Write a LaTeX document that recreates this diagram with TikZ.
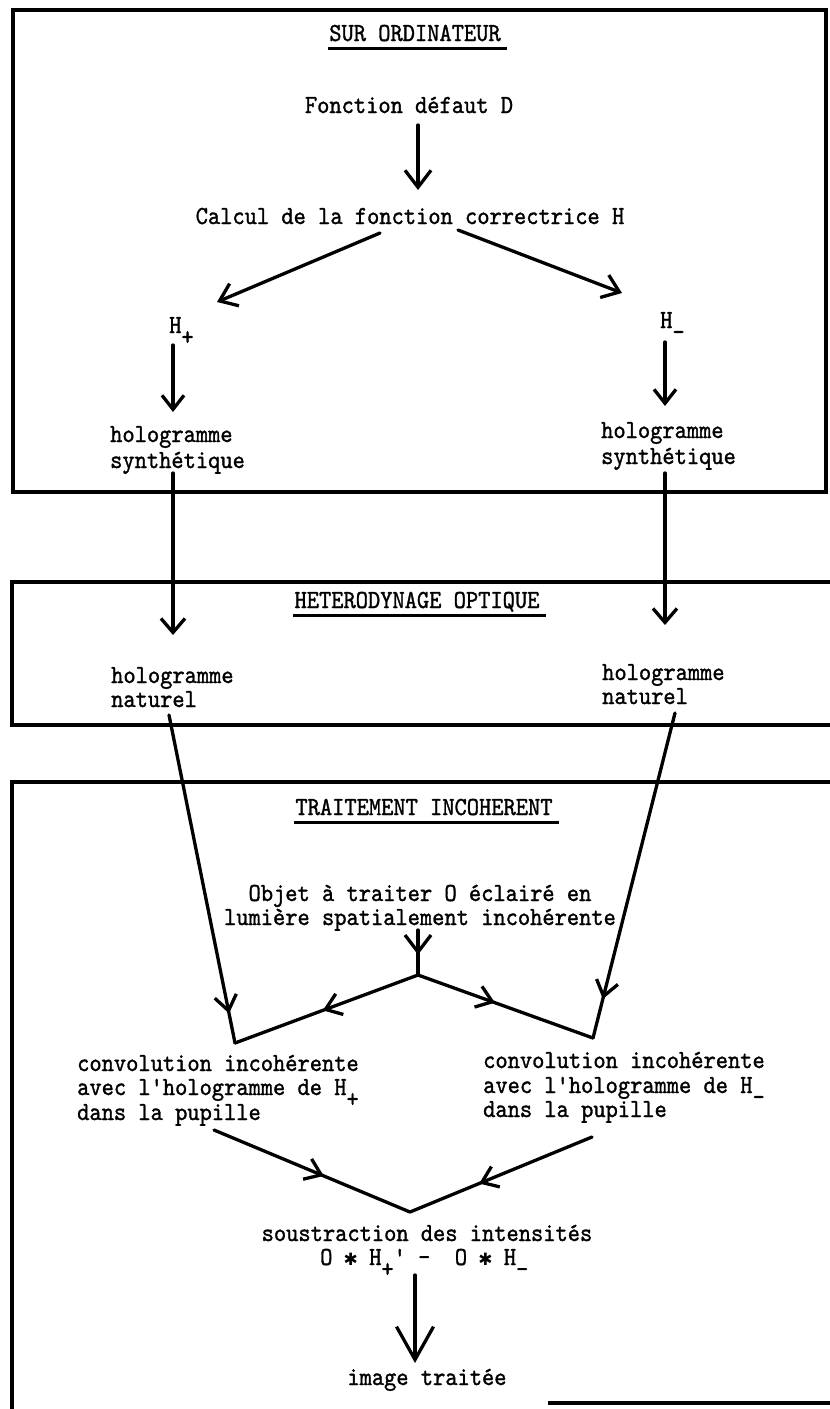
\documentclass[tikz,border=0pt]{standalone}
\usepackage{fontspec}
\newfontfamily\tw[FakeBold=1.2,FakeStretch=0.897]{lmmono10-regular.otf}
\newfontfamily\symfont{DejaVu Sans}
\usetikzlibrary{arrows.meta,decorations.markings}
\newcommand\lowr[1]{\raisebox{-12pt}{#1}}
\newcommand\convstar{\makebox[12.25pt]{\symfont\bfseries\fontsize{17}{17}\selectfont ✱}}
\begin{document}
\begin{tikzpicture}[x=1pt,y=-1pt,
  txt/.style={inner sep=0pt,text height=16pt,text depth=5pt,font=\tw\fontsize{26}{24}\selectfont},
  frame/.style={line width=4pt,line cap=rect},
  uline/.style={line width=3pt},
  conn/.style={line width=3.3pt,line cap=round,line join=round},
  hd/.style 2 args={-{Straight Barb[length=#1pt,width=#2pt]}},
  midhead/.style n args={3}{postaction={decorate},decoration={markings,
     mark=at position #1 with {\arrow{Straight Barb[length=#2pt,width=#3pt]}}}}
]
\fill[white] (0,0) rectangle (830,1409);
\useasboundingbox (0,0) rectangle (830,1409);

% frames
\draw[frame] (13,10) rectangle (826,492);
\draw[frame] (830,582) -- (12,582) -- (12,725) -- (830,725);
\draw[frame] (830,782) -- (12,782) -- (12,1409);
\draw[frame] (550,1403) -- (830,1403);

% headings
\node[txt,anchor=base] (t1) at (415,41) {SUR ORDINATEUR};
\node[txt,anchor=base] (t2) at (417,608) {HETERODYNAGE OPTIQUE};
\node[txt,anchor=base] (t3) at (424,815) {TRAITEMENT INCOHERENT};
\foreach \t in {t1,t2,t3}
  \draw[uline] ([shift={(-1,7)}]\t.base west) -- ([shift={(6,7)}]\t.base east);

% texts
\node[txt,anchor=base] (fd) at (409,113) {Fonction défaut D};
\node[txt,anchor=base] (calc) at (410,224) {Calcul de la fonction correctrice H};
\node[txt,anchor=base west] (hp) at (169,333) {H\lowr{+}};
\node[txt,anchor=base west] (hm) at (660,328) {H\lowr{-}};
\node[txt,anchor=base west] (hs1a) at (110,442) {hologramme};
\node[txt,anchor=base west] (hs1b) at (110,468) {synthétique};
\node[txt,anchor=base west] (hs2a) at (601,438) {hologramme};
\node[txt,anchor=base west] (hs2b) at (601,464) {synthétique};
\node[txt,anchor=base west] (hn1a) at (111,683) {hologramme};
\node[txt,anchor=base west] (hn1b) at (111,707) {naturel};
\node[txt,anchor=base west] (hn2a) at (602,680) {hologramme};
\node[txt,anchor=base west] (hn2b) at (602,704) {naturel};
\node[txt,anchor=base] (obja) at (420,901) {Objet à traiter O éclairé en};
\node[txt,anchor=base] (objb) at (420,925) {lumière spatialement incohérente};
\node[txt,anchor=base west] (cv1a) at (77,1071) {convolution incohérente};
\node[txt,anchor=base west] (cv1b) at (77,1095) {avec l'hologramme de H\lowr{+}};
\node[txt,anchor=base west] (cv1c) at (77,1120) {dans la pupille};
\node[txt,anchor=base west] (cv2a) at (483,1068) {convolution incohérente};
\node[txt,anchor=base west] (cv2b) at (483,1093) {avec l'hologramme de H\lowr{-}};
\node[txt,anchor=base west] (cv2c) at (483,1117) {dans la pupille};
\node[txt,anchor=base] (sous) at (427,1241) {soustraction des intensités};
\node[txt,anchor=base west] (form) at (320,1265) {O \convstar{} H\lowr{+}' -\ \ O \convstar{} H\lowr{-}};
\node[txt,anchor=base] (img) at (427,1385) {image traitée};

% junctions
\coordinate (J1) at (418,975);
\coordinate (L1) at (235,1043);
\coordinate (R1) at (593,1038);
\coordinate (J2) at (410,1212);

% connectors: top box
\draw[conn,hd={17}{26}] ([shift={(9,12)}]fd.base) -- ([shift={(8,-34)}]calc.base);
\draw[conn,hd={16}{24}] ([shift={(-30,9)}]calc.base) -- ([shift={(48,-31)}]hp.base west);
\draw[conn,hd={16}{24}] ([shift={(48,6)}]calc.base) -- ([shift={(-38,-35)}]hm.base west);
\draw[conn,hd={14}{22}] ([shift={(4,12)}]hp.base west) -- ([shift={(63,-30)}]hs1a.base west);
\draw[conn,hd={14}{22}] ([shift={(5,14)}]hm.base west) -- ([shift={(64,-32)}]hs2a.base west);
% to heterodynage
\draw[conn,hd={14}{24}] ([shift={(63,5)}]hs1b.base west) -- ([shift={(62,-48)}]hn1a.base west);
\draw[conn,hd={14}{24}] ([shift={(64,9)}]hs2b.base west) -- ([shift={(63,-55)}]hn2a.base west);
% to incoherent
\draw[conn,midhead={0.91}{15}{22}] ([shift={(58,8)}]hn1b.base west) -- (L1);
\draw[conn,midhead={0.88}{15}{22}] ([shift={(73,9)}]hn2b.base west) -- (R1);
\draw[conn,midhead={0.55}{17}{26}] ([shift={(-2,5)}]objb.base) -- (J1);
\draw[conn,midhead={0.52}{15}{22}] (J1) -- (L1);
\draw[conn,midhead={0.44}{15}{22}] (J1) -- (R1);
\draw[conn,midhead={0.56}{15}{22}] ([shift={(137,10)}]cv1c.base west) -- (J2);
\draw[conn,midhead={0.62}{15}{22}] ([shift={(109,20)}]cv2c.base west) -- (J2);
\draw[conn,hd={33}{37}] ([shift={(95,10)}]form.base west) -- ([shift={(-12,-22)}]img.base);
\end{tikzpicture}
\end{document}
